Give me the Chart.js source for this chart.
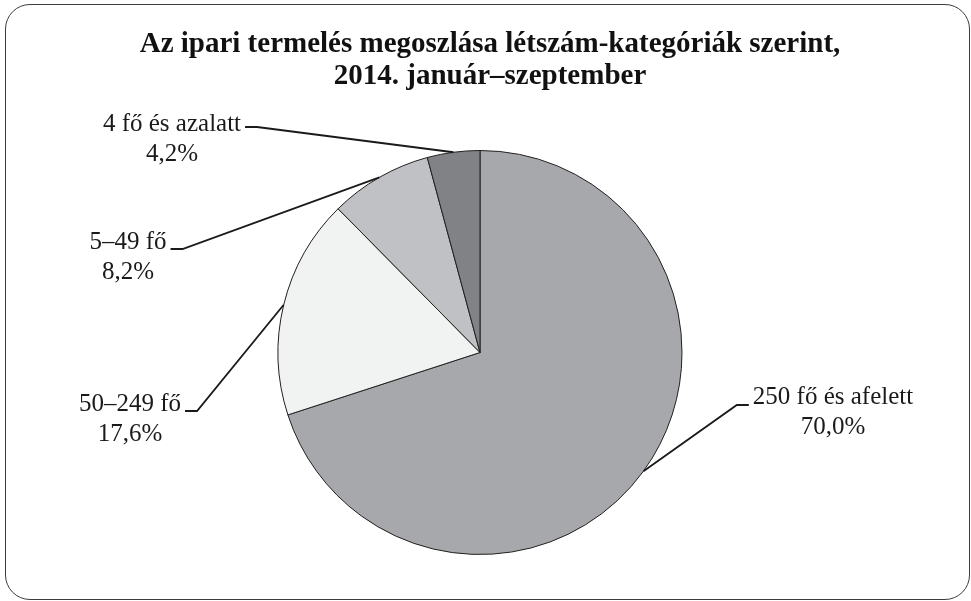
<!DOCTYPE html>
<html>
<head>
<meta charset="utf-8">
<script src="https://cdn.jsdelivr.net/npm/chart.js@4/dist/chart.umd.min.js"></script>
<style>
  html, body { margin: 0; padding: 0; background: #fff; }
  #wrap { position: relative; width: 971px; height: 601px; overflow: hidden; }
  #frame {
    position: absolute; left: 5px; top: 4px; width: 963px; height: 594px;
    border: 1.5px solid #3c3c3c; border-radius: 25px;
  }
  canvas { position: absolute; left: 0; top: 0; }
</style>
</head>
<body>
<div id="wrap">
  <div id="frame"></div>
  <canvas id="pie" width="971" height="601"></canvas>
</div>
<script>
// data
var categories = ["250 fő és afelett", "50–249 fő", "5–49 fő", "4 fő és azalatt"];
var shares = [70.0, 17.6, 8.2, 4.2];
var sliceColors = ["#a7a8ab", "#f1f2f2", "#c0c1c4", "#808285"];
var titleLines = ["Az ipari termelés megoszlása létszám-kategóriák szerint,", "2014. január–szeptember"];

// where the label text sits (centre x, first line y) and the y of its little elbow
var labelPlaces = [
  { x: 833, y: 397, elbowY: 405, side: "right" },
  { x: 130, y: 404, elbowY: 411, side: "left" },
  { x: 128, y: 242, elbowY: 249, side: "left" },
  { x: 172, y: 124, elbowY: 127, side: "left" }
];

function fmt(v) {
  return v.toFixed(1).replace(".", ",") + "%";
}

var labelFont = "25px 'Liberation Serif', 'DejaVu Serif', serif";

var labelsPlugin = {
  id: "labels",
  afterDraw: function(chart) {
    var ctx = chart.ctx;
    ctx.save();
    // title
    ctx.fillStyle = "#111";
    ctx.font = "bold 29px 'Liberation Serif', 'DejaVu Serif', serif";
    ctx.textAlign = "center";
    ctx.textBaseline = "middle";
    ctx.fillText(titleLines[0], 490, 45);
    ctx.fillText(titleLines[1], 490, 77);

    var arcs = chart.getDatasetMeta(0).data;
    ctx.font = labelFont;
    arcs.forEach(function(arc, i) {
      var p = labelPlaces[i];
      var mid = (arc.startAngle + arc.endAngle) / 2;
      var ax = arc.x + Math.cos(mid) * arc.outerRadius;
      var ay = arc.y + Math.sin(mid) * arc.outerRadius;
      var w = ctx.measureText(categories[i]).width;
      var e1, e2;
      if (p.side == "left") {
        e1 = p.x + w / 2 + 4;
        e2 = e1 + 12;
      } else {
        e1 = p.x - w / 2 - 4;
        e2 = e1 - 12;
      }
      ctx.strokeStyle = "#1a1a1a";
      ctx.lineWidth = 1.8;
      ctx.beginPath();
      ctx.moveTo(e1, p.elbowY);
      ctx.lineTo(e2, p.elbowY);
      ctx.lineTo(ax, ay);
      ctx.stroke();

      ctx.fillStyle = "#1a1a1a";
      ctx.textAlign = "center";
      ctx.textBaseline = "middle";
      ctx.fillText(categories[i], p.x, p.y);
      ctx.fillText(fmt(shares[i]), p.x, p.y + 30);
    });
    ctx.restore();
  }
};

new Chart(document.getElementById("pie"), {
  type: "pie",
  data: {
    labels: categories,
    datasets: [{
      data: shares,
      backgroundColor: sliceColors,
      borderColor: "#231f20",
      borderWidth: 1
    }]
  },
  options: {
    responsive: false,
    animation: false,
    layout: { padding: { top: 150, bottom: 46, left: 0, right: 11 } },
    plugins: {
      legend: { display: false },
      tooltip: { enabled: false }
    }
  },
  plugins: [labelsPlugin]
});
</script>
</body>
</html>
